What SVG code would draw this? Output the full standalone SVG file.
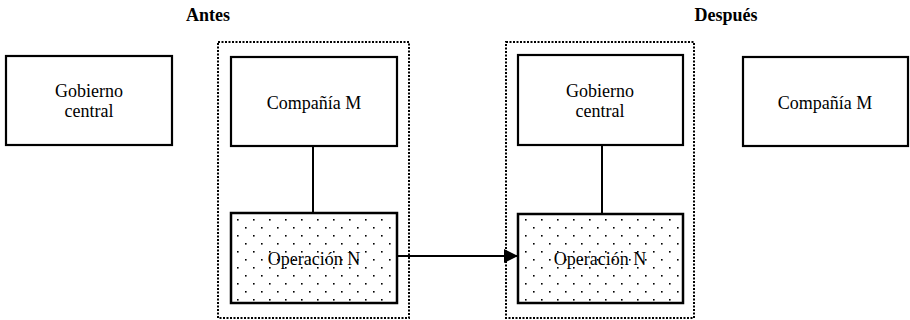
<svg xmlns="http://www.w3.org/2000/svg" width="910" height="320" viewBox="0 0 910 320">
<style>
.box{fill:#fff;stroke:#000;stroke-width:2.2}
.dot{fill:url(#dots);stroke:#000;stroke-width:2.5}
.grp{fill:none;stroke:#000;stroke-width:2;stroke-dasharray:2,1.5}
text{font-family:"Liberation Serif","Times New Roman",Times,"DejaVu Serif",serif;font-size:18px;text-anchor:middle;fill:#000}
.h{font-weight:bold}
.ln{stroke:#000;stroke-width:2;fill:none}
</style>
<defs>
<pattern id="dots" width="16" height="16" patternUnits="userSpaceOnUse" x="237" y="219">
<rect width="16" height="16" fill="#fff"/>
<rect x="0" y="0" width="1.6" height="1.6" fill="#000"/>
<rect x="8" y="8" width="1.6" height="1.6" fill="#000"/>
</pattern>
<marker id="arr" markerWidth="16" markerHeight="16" refX="14" refY="7" orient="auto" markerUnits="userSpaceOnUse" viewBox="0 0 16 16">
<path d="M0,0 L14,7 L0,14 Z" fill="#000"/>
</marker>
</defs>
<text class="h" x="208" y="21">Antes</text>
<text class="h" x="726" y="21">Después</text>
<rect class="grp" x="218" y="42" width="191" height="276"/>
<rect class="grp" x="506" y="42" width="188" height="276"/>
<g id="gobierno-antes">
<rect class="box" x="6" y="56" width="166" height="89"/>
<text x="89" y="97">Gobierno</text>
<text x="89" y="117">central</text>
</g>
<g id="compania-antes">
<rect class="box" x="231" y="57" width="166" height="89"/>
<text x="314" y="109">Compañía M</text>
</g>
<g id="operacion-antes">
<rect class="dot" x="231" y="213" width="166" height="90"/>
<text x="314" y="265">Operación N</text>
</g>
<g id="gobierno-despues">
<rect class="box" x="518" y="55" width="165" height="90"/>
<text x="600" y="97">Gobierno</text>
<text x="600" y="117">central</text>
</g>
<g id="operacion-despues">
<rect class="dot" x="518" y="214" width="165" height="89"/>
<text x="600" y="265">Operación N</text>
</g>
<g id="compania-despues">
<rect class="box" x="743" y="57" width="165" height="89"/>
<text x="825" y="109">Compañía M</text>
</g>
<g id="connectors">
<line class="ln" x1="313" y1="147" x2="313" y2="212"/>
<line class="ln" x1="602" y1="146" x2="602" y2="213"/>
<line class="ln" x1="398" y1="256" x2="518" y2="256" stroke-width="1.5" marker-end="url(#arr)"/>
</g>
</svg>
